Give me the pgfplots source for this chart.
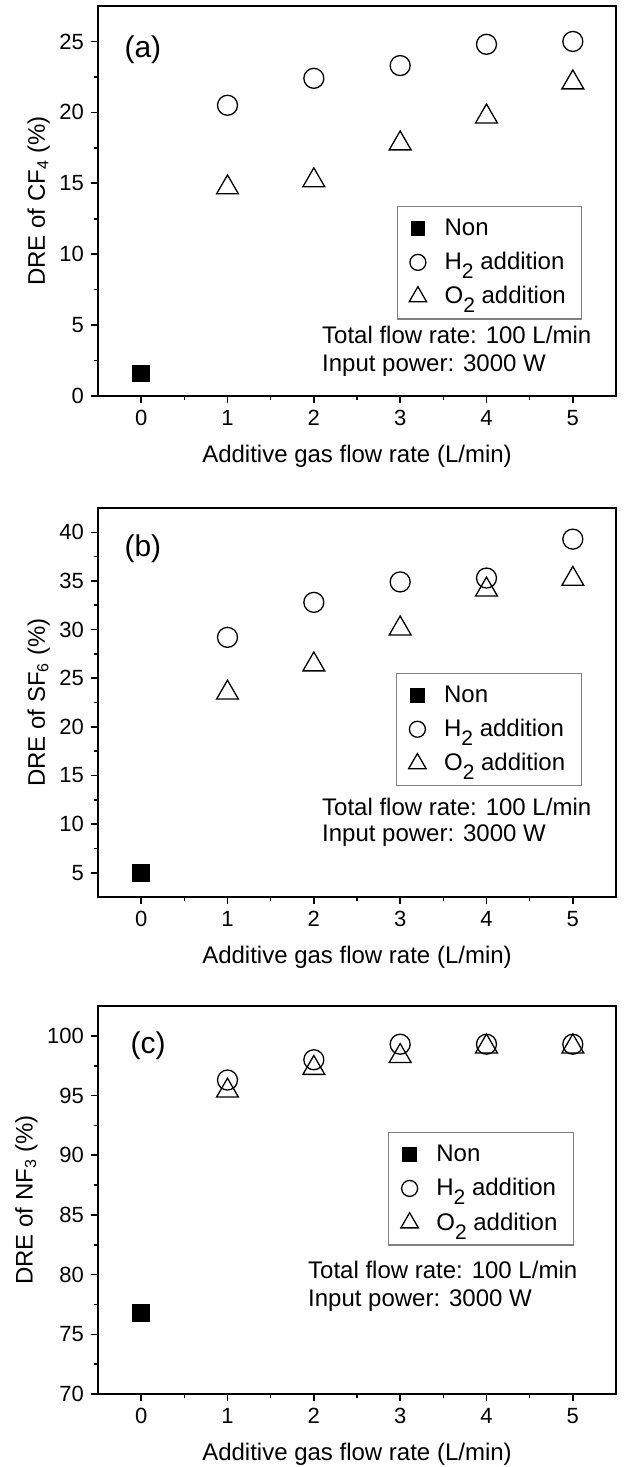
\documentclass[border=0pt]{standalone}
\usepackage{fontspec}
\setmainfont{Liberation Sans}
\usepackage{pgfplots}
\pgfplotsset{compat=1.18}

\newcommand{\lsub}[1]{\raisebox{-4.5pt}{\fontsize{10.5}{10.5}\selectfont #1}}
\tikzset{
  note/.style={anchor=west, inner xsep=0pt, font=\fontsize{12}{14}\selectfont},
  tag/.style={font=\fontsize{15}{17}\selectfont},
}
\pgfplotsset{
  dre/.style={
    scale only axis, width=259pt,
    xmin=-0.5, xmax=5.5, xtick={0,...,5}, minor x tick num=1, minor y tick num=1,
    tick align=outside, xtick pos=bottom, ytick pos=left,
    major tick length=3.5pt, minor tick length=2.2pt,
    axis line style={line width=0.8pt},
    every tick/.style={black, line width=0.8pt},
    /pgf/number format/assume math mode=true,
    tick label style={font=\fontsize{11}{12}\selectfont},
    label style={font=\fontsize{12}{14}\selectfont},
    xlabel={Additive gas flow rate (L/min)},
    xlabel style={yshift=-3pt},
    ylabel style={yshift=-2pt},
    legend style={draw=gray, line width=0.6pt, font=\fontsize{12}{14}\selectfont,
      anchor=north east, inner xsep=6pt, inner ysep=4pt, row sep=3pt,
      cells={anchor=west},
      /tikz/every odd column/.append style={column sep=7pt}},
    legend image post style={scale=0.8},
  },
  nonmark/.style={only marks, mark=square*, mark size=4.2pt, black},
  h2mark/.style={only marks, mark=o, mark size=5pt, black, mark options={line width=0.65pt}},
  o2mark/.style={only marks, mark=triangle, mark size=6.3pt, black, mark options={line width=0.65pt}},
}

\begin{document}
\begin{tikzpicture}
\useasboundingbox (0,0) rectangle (311.5pt,-733.5pt);

% (a) CF4
\begin{axis}[dre, at={(49pt,-198pt)}, anchor=south west, height=195pt,
  ymin=0, ymax=27.5, ytick={0,5,...,25},
  ylabel={DRE of CF\textsubscript{4} (\%)},
  legend style={at={(0.935,0.487)}}]
\addplot[nonmark] coordinates {(0,1.6)};
\addplot[h2mark] coordinates {(1,20.5) (2,22.4) (3,23.3) (4,24.8) (5,25.0)};
\addplot[o2mark] coordinates {(1,14.7) (2,15.2) (3,17.8) (4,19.7) (5,22.1)};
\legend{Non, H\lsub{2} addition, O\lsub{2} addition}
\node[tag] at (axis cs:0.02,24.4) {(a)};
\node[note] at (rel axis cs:0.432,0.156) {Total flow rate: 100 L/min};
\node[note] at (rel axis cs:0.432,0.079) {Input power: 3000 W};
\end{axis}

% (b) SF6
\begin{axis}[dre, at={(49pt,-448.5pt)}, anchor=south west, height=194.5pt,
  ymin=2.5, ymax=42.5, ytick={5,10,...,40},
  ylabel={DRE of SF\textsubscript{6} (\%)},
  legend style={at={(0.934,0.576)}}]
\addplot[nonmark] coordinates {(0,5.0)};
\addplot[h2mark] coordinates {(1,29.2) (2,32.8) (3,34.9) (4,35.3) (5,39.3)};
\addplot[o2mark] coordinates {(1,23.5) (2,26.4) (3,30.1) (4,34.1) (5,35.2)};
\legend{Non, H\lsub{2} addition, O\lsub{2} addition}
\node[tag] at (axis cs:0.02,38.3) {(b)};
\node[note] at (rel axis cs:0.432,0.231) {Total flow rate: 100 L/min};
\node[note] at (rel axis cs:0.432,0.157) {Input power: 3000 W};
\end{axis}

% (c) NF3
\begin{axis}[dre, at={(49pt,-697pt)}, anchor=south west, height=194pt,
  ymin=70, ymax=102.5, ytick={70,75,...,100},
  ylabel={DRE of NF\textsubscript{3} (\%)},
  legend style={at={(0.919,0.675)}}]
\addplot[nonmark] coordinates {(0,76.8)};
\addplot[h2mark] coordinates {(1,96.3) (2,98.0) (3,99.3) (4,99.3) (5,99.3)};
\addplot[o2mark] coordinates {(1,95.4) (2,97.3) (3,98.3) (4,99.1) (5,99.1)};
\legend{Non, H\lsub{2} addition, O\lsub{2} addition}
\node[tag] at (axis cs:0.08,99.2) {(c)};
\node[note] at (rel axis cs:0.405,0.320) {Total flow rate: 100 L/min};
\node[note] at (rel axis cs:0.405,0.242) {Input power: 3000 W};
\end{axis}
\end{tikzpicture}
\end{document}
